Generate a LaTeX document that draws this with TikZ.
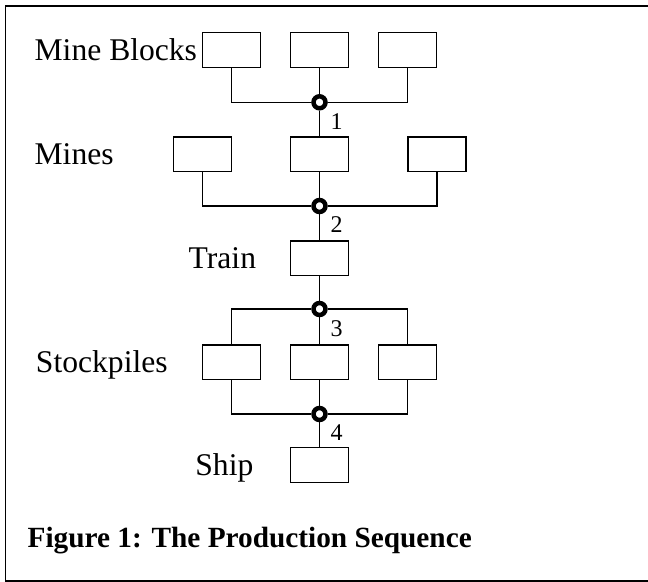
\documentclass[tikz,border=0pt]{standalone}
\usepackage{fontspec}
\setmainfont{Liberation Serif}
\begin{document}
\begin{tikzpicture}[x=0.5pt, y=-0.5pt, line width=0.65pt,
  unit/.style={draw, rectangle, minimum width=29pt, minimum height=17.25pt, inner sep=0pt},
  junc/.style={circle, draw, fill=white, line width=2.25pt, minimum size=6pt, inner sep=0pt},
  stage/.style={font=\fontsize{15.8}{19}\selectfont, inner sep=0pt},
  tag/.style={font=\fontsize{12}{14}\selectfont, anchor=base west, inner sep=0pt}]
	\useasboundingbox (0,0) rectangle (648,582);
	\draw[line width=0.8pt] (5.5,6) rectangle (660,581);
	% units
	\node[unit] (b1) at (231.5,50) {};
	\node[unit] (b2) at (319.5,50) {};
	\node[unit] (b3) at (407.5,50) {};
	\node[unit] (m1) at (202.2,154.2) {};
	\node[unit] (m2) at (319.5,154.2) {};
	\node[unit] (m3) at (437,154.2) {};
	\node[unit] (t) at (319.5,258.3) {};
	\node[unit] (s1) at (231.5,362.2) {};
	\node[unit] (s2) at (319.5,362.2) {};
	\node[unit] (s3) at (407.8,362.2) {};
	\node[unit] (sh) at (319.5,465) {};
	% junctions
	\node[junc] (j1) at (319.5,102.3) {};
	\node[junc] (j2) at (319.5,206) {};
	\node[junc] (j3) at (319.5,309) {};
	\node[junc] (j4) at (319.5,414) {};
	% links
	\draw (b1.south) |- (j1) -| (b3.south);
	\draw (b2.south) -- (j1) -- (m2.north);
	\draw (m1.south) |- (j2) -| (m3.south);
	\draw (m2.south) -- (j2) -- (t.north);
	\draw (t.south) -- (j3) -- (s2.north);
	\draw (s1.north) |- (j3) -| (s3.north);
	\draw (s1.south) |- (j4) -| (s3.south);
	\draw (s2.south) -- (j4) -- (sh.north);
	% texts
	\node[stage, anchor=base west] (lb) at (34,61) {Mine Blocks};
	\node[stage, anchor=base west] (lm) at (34,165) {Mines};
	\node[stage, anchor=base east] (lt) at (256.7,268.5) {Train};
	\node[stage, anchor=base east] (ls) at (168.3,372.7) {Stockpiles};
	\node[stage, anchor=base east] (lsh) at (254,475.7) {Ship};
	\node[tag] (n1) at (330,129.3) {1};
	\node[tag] (n2) at (330,232.7) {2};
	\node[tag] (n3) at (330,336.3) {3};
	\node[tag] (n4) at (330,440.7) {4};
	\node[font=\bfseries\fontsize{14.65}{17}\selectfont, anchor=base west, inner sep=0pt] (cap) at (27,547.7) {Figure 1: The Production Sequence};
\end{tikzpicture}
\end{document}
